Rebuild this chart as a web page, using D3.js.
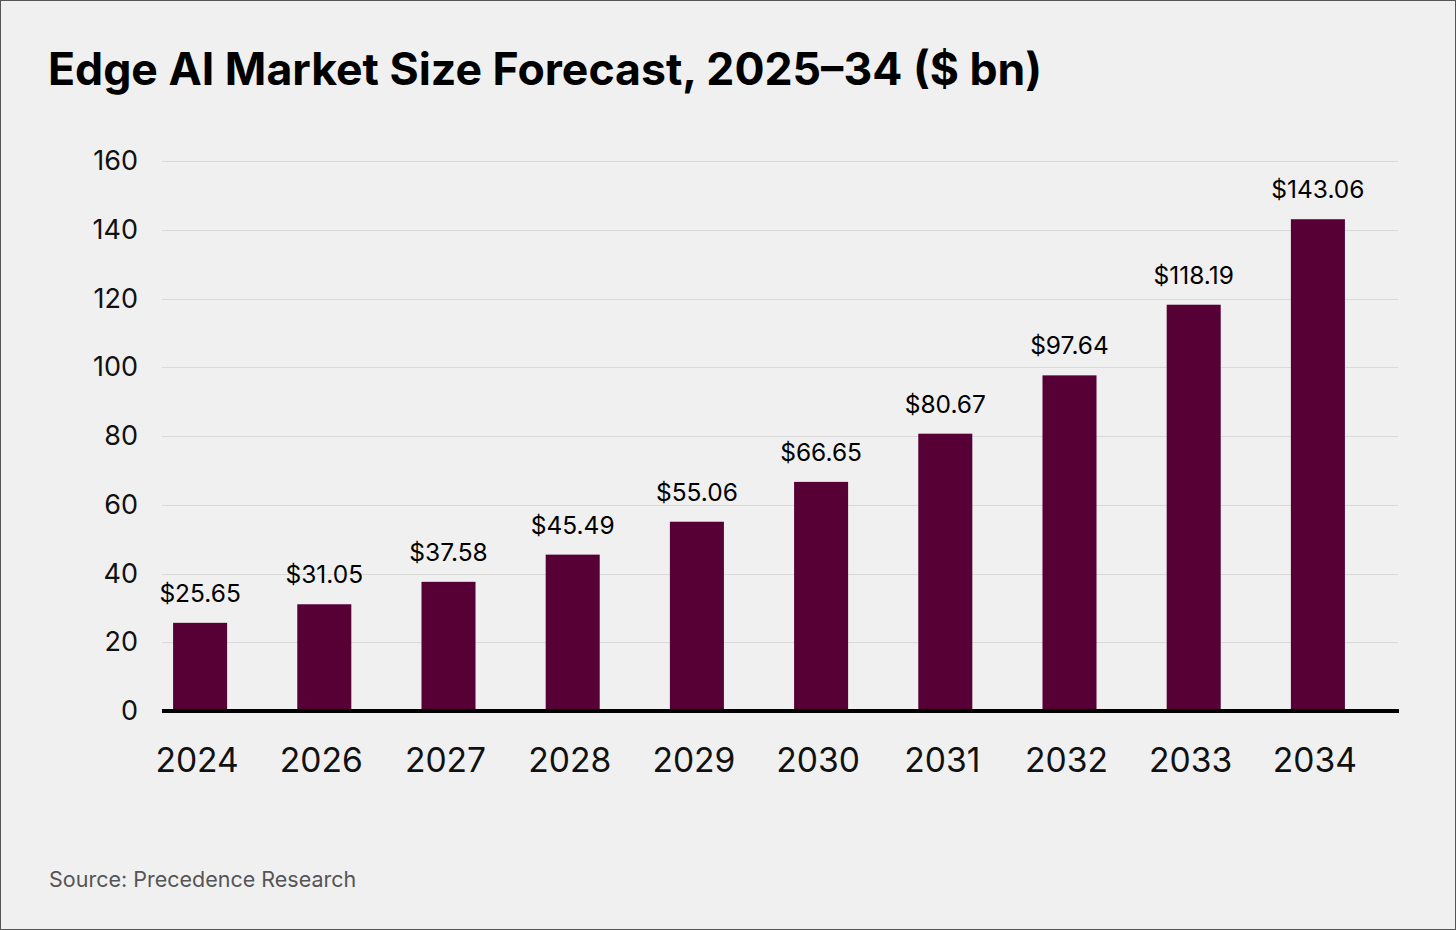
<!DOCTYPE html>
<html>
<head>
<meta charset="utf-8">
<script src="https://d3js.org/d3.v7.min.js"></script>
<style>
body { margin: 0; background: #f0f0f0; }
svg { display: block; font-family: Inter, "Noto Sans", sans-serif; }
</style>
</head>
<body>
<script>
// Width and height of the page
var W = 1456, H = 930;

// Chart data
var years = ["2024", "2026", "2027", "2028", "2029", "2030", "2031", "2032", "2033", "2034"];
var values = [25.65, 31.05, 37.58, 45.49, 55.06, 66.65, 80.67, 97.64, 118.19, 143.06];
var yTicks = [0, 20, 40, 60, 80, 100, 120, 140, 160];

var data = years.map(function(y, i) { return {year: y, value: values[i]}; });

var svg = d3.select("body")
	.append("svg")
	.attr("width", W)
	.attr("height", H);

// background and thin border
svg.append("rect")
	.attr("x", 0.5).attr("y", 0.5)
	.attr("width", W - 1).attr("height", H - 1)
	.style("fill", "#f0f0f0")
	.style("stroke", "#555");

// scales
var x = d3.scaleBand()
	.domain(years)
	.range([138, 1380])
	.paddingInner(0.565)
	.paddingOuter(0.2825);

var y = d3.scaleLinear()
	.domain([0, 160])
	.range([711, 161]);

// title
svg.append("text")
	.attr("x", 48)
	.attr("y", 85)
	.attr("font-size", "44.6px")
	.attr("font-weight", 700)
	.attr("fill", "#000")
	.text("Edge AI Market Size Forecast, 2025–34 ($ bn)");

// gridlines
svg.append("g")
	.selectAll("line")
	.data(yTicks.slice(1))
	.enter().append("line")
	.attr("x1", 162).attr("x2", 1398)
	.attr("y1", function(d) { return Math.round(y(d)) + 0.5; })
	.attr("y2", function(d) { return Math.round(y(d)) + 0.5; })
	.style("stroke", "#d9d9d9")
	.style("stroke-width", 1);

// y axis labels
var yAxis = svg.append("g")
	.attr("transform", "translate(138,0)")
	.call(d3.axisLeft(y).tickValues(yTicks).tickSize(0).tickPadding(0));
yAxis.select(".domain").remove();
yAxis.selectAll("text")
	.attr("font-size", "27px")
	.attr("font-family", "Inter, sans-serif")
	.attr("fill", "#111");

// bars
svg.append("g")
	.selectAll("rect")
	.data(data)
	.enter().append("rect")
	.attr("x", function(d) { return x(d.year); })
	.attr("width", x.bandwidth())
	.attr("y", function(d) { return y(d.value); })
	.attr("height", function(d) { return y(0) - y(d.value); })
	.style("fill", "#560035");

// value labels
svg.append("g")
	.selectAll("text")
	.data(data)
	.enter().append("text")
	.attr("x", function(d) { return x(d.year) + x.bandwidth() / 2; })
	.attr("y", function(d) { return y(d.value) - 21; })
	.attr("text-anchor", "middle")
	.attr("font-size", "24.5px")
	.attr("fill", "#000")
	.text(function(d) { return "$" + d.value.toFixed(2); });

// baseline
svg.append("line")
	.attr("x1", 162).attr("x2", 1399)
	.attr("y1", y(0)).attr("y2", y(0))
	.style("stroke", "#000")
	.style("stroke-width", 4);

// x axis labels
var xAxis = svg.append("g")
	.attr("transform", "translate(-3,748)")
	.call(d3.axisBottom(x).tickSize(0).tickPadding(0));
xAxis.select(".domain").remove();
xAxis.selectAll("text")
	.attr("font-size", "33.6px")
	.attr("font-family", "Inter, sans-serif")
	.attr("fill", "#111");

// source
svg.append("text")
	.attr("x", 49)
	.attr("y", 887)
	.attr("font-size", "21.5px")
	.attr("fill", "#555")
	.text("Source: Precedence Research");
</script>
</body>
</html>
